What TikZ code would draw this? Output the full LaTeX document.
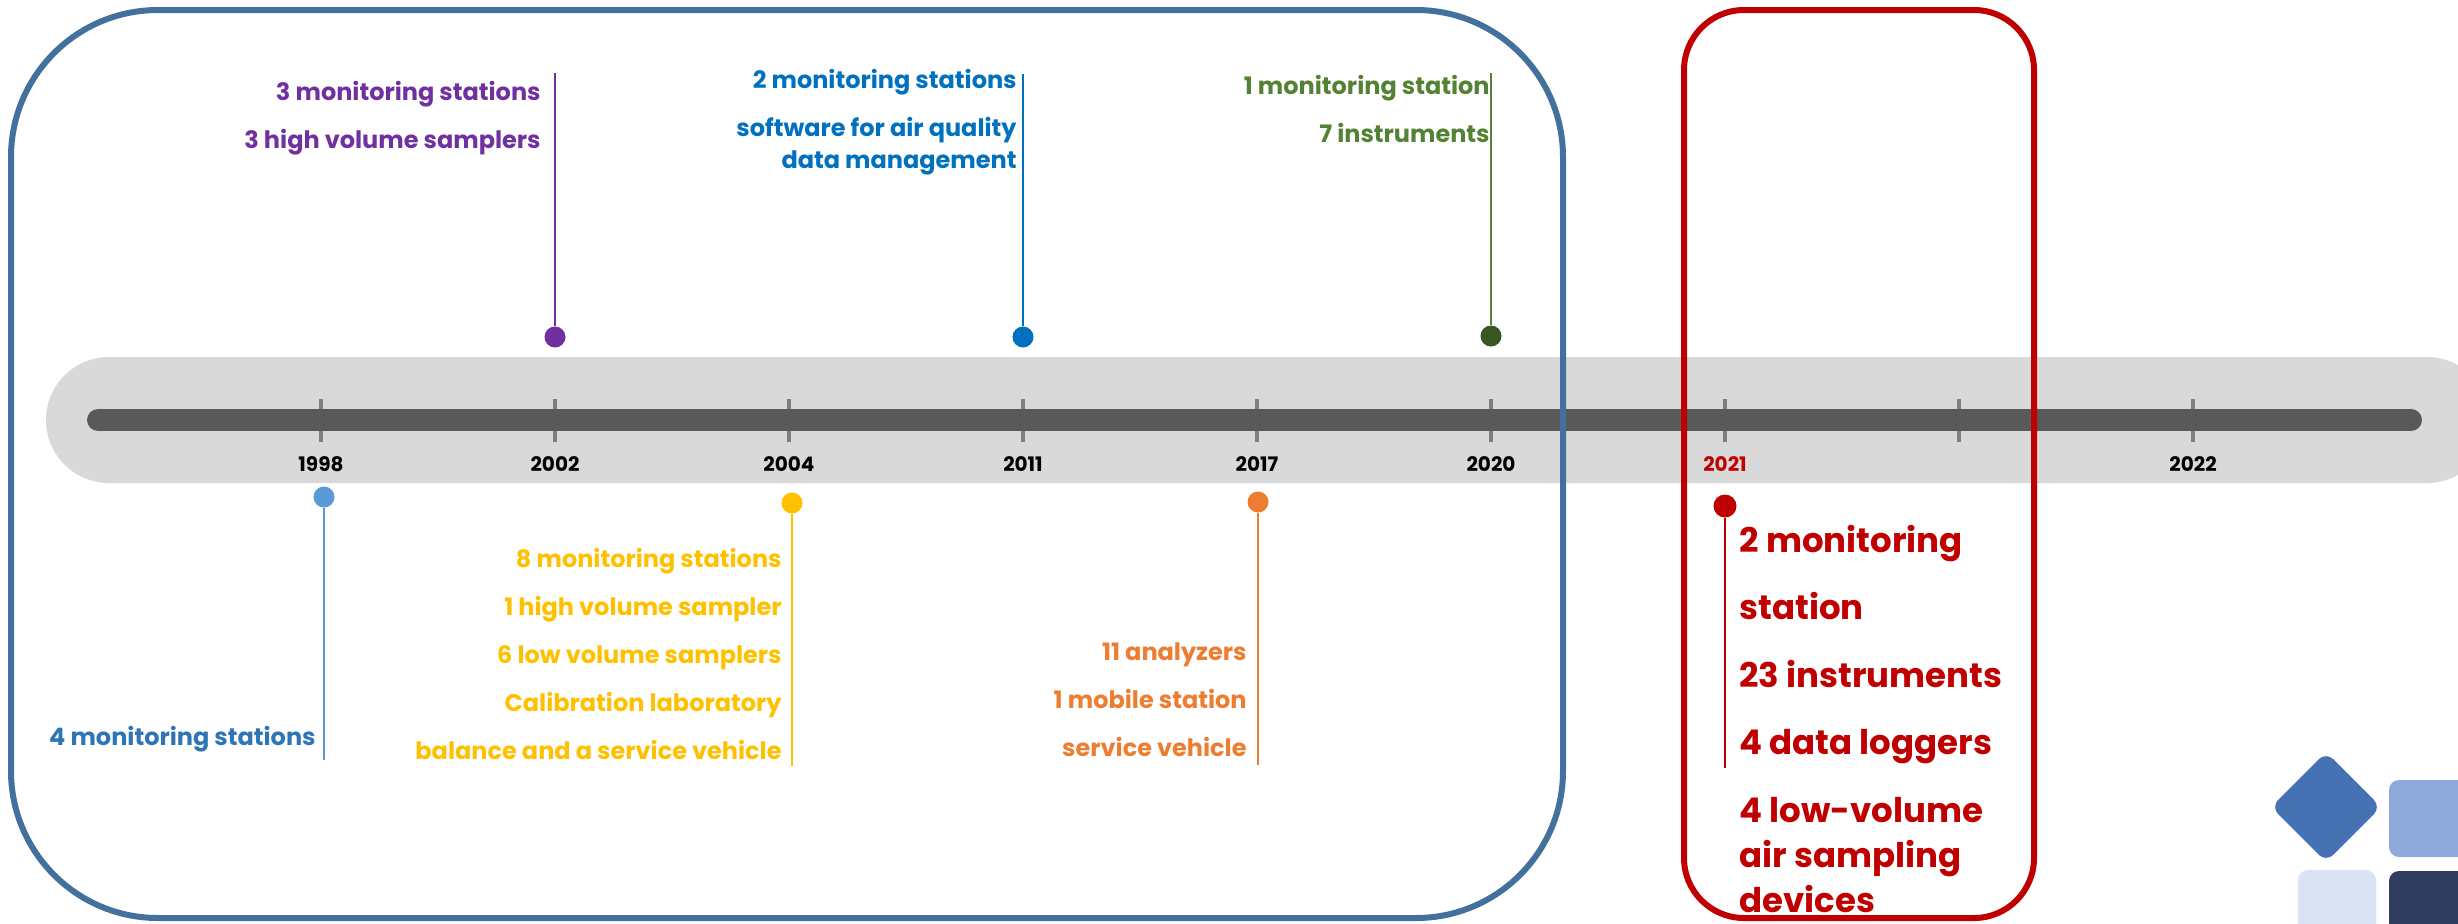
\documentclass[tikz,border=0pt]{standalone}
\usepackage{fontspec}
\setmainfont{Poppins}
\usepackage{xcolor}
\usetikzlibrary{positioning}

\definecolor{boxblue}{HTML}{41719C}
\definecolor{redmark}{HTML}{C00000}
\definecolor{bandgray}{HTML}{D9D9D9}
\definecolor{axisgray}{HTML}{595959}
\definecolor{tickgray}{HTML}{7F7F7F}
\definecolor{violet98}{HTML}{7030A0}
\definecolor{blue11}{HTML}{0070C0}
\definecolor{green20}{HTML}{548235}
\definecolor{darkgreen20}{HTML}{375623}
\definecolor{lightblue98}{HTML}{5B9BD5}
\definecolor{textblue98}{HTML}{2E75B6}
\definecolor{yellow04}{HTML}{FFC000}
\definecolor{orange17}{HTML}{ED7D31}
\definecolor{tileblue}{HTML}{4672B4}
\definecolor{tilelight}{HTML}{8EA9DB}
\definecolor{tilepale}{HTML}{DAE3F3}
\definecolor{tilenavy}{HTML}{2F3C5F}

\begin{document}
\begin{tikzpicture}[x=0.5pt, y=-0.5pt, node distance=117pt,
    year/.style={font=\fontsize{10}{12}\selectfont\bfseries, inner sep=0pt},
    pindot/.style={circle, fill=#1, inner sep=0pt, minimum size=10.5pt},
    stem/.style={draw=#1, line width=0.75pt},
    info/.style={text=#1, align=right, anchor=base east, inner sep=0pt,
                 font=\fontsize{12}{24}\selectfont\bfseries}]
    \useasboundingbox (0,0) rectangle (2458,923);
    % time band
    \fill[bandgray, rounded corners=31.5pt] (46,357) rectangle (2490,483);
    \draw[tickgray, line width=2pt] (321,399) -- (321,442) (555,399) -- (555,442)
        (789,399) -- (789,442) (1023,399) -- (1023,442) (1257,399) -- (1257,442)
        (1491,399) -- (1491,442) (1725,399) -- (1725,442) (1959,399) -- (1959,442)
        (2193,399) -- (2193,442);
    \draw[axisgray, line width=11pt, line cap=round] (98,420) -- (2411,420);
    % years
    \node[year] (y1998) at (321,464) {1998};
    \node[year] (y2002) [right of=y1998] {2002};
    \node[year] (y2004) [right of=y2002] {2004};
    \node[year] (y2011) [right of=y2004] {2011};
    \node[year] (y2017) [right of=y2011] {2017};
    \node[year] (y2020) [right of=y2017] {2020};
    \node[year, text=redmark] (y2021) [right of=y2020] {2021};
    \node[year] (y2022) [right of=y2021, node distance=234pt] {2022};
    % frames
    \draw[boxblue, line width=3pt, rounded corners=73.5pt] (11,10) rectangle (1563,918);
    \draw[redmark, line width=3pt, rounded corners=30pt] (1684,10) rectangle (2034,918);
    % events above the band (anchored on the last line)
    \node[pindot=violet98] (d2002) at (555,337) {};
    \coordinate (t2002) at (555,73);
    \node[info=violet98] (n2002) at (541,148) {3 monitoring stations\\3 high volume samplers};
    \node[pindot=blue11] (d2011) at (1023,337) {};
    \coordinate (t2011) at (1023,74);
    \node[info=blue11] (n2011) at (1017,168) {2 monitoring stations\\software for air quality\\[-8pt]data management};
    \node[pindot=darkgreen20] (d2020) at (1491,336) {};
    \coordinate (t2020) at (1491,73);
    \node[info=green20] (n2020) at (1490,142) {1 monitoring station\\7 instruments};
    % events below the band
    \node[pindot=lightblue98] (d1998) at (324,497) {};
    \coordinate (b1998) at (324,760);
    \node[info=textblue98] (n1998) at (316,745) {4 monitoring stations};
    \node[pindot=yellow04] (d2004) at (792,503) {};
    \coordinate (b2004) at (792,766);
    \node[info=yellow04] (n2004) at (782,759) {8 monitoring stations\\1 high volume sampler\\6 low volume samplers\\Calibration laboratory\\balance and a service vehicle};
    \node[pindot=orange17] (d2017) at (1258,502) {};
    \coordinate (b2017) at (1258,765);
    \node[info=orange17] (n2017) at (1247,756) {11 analyzers\\1 mobile station\\service vehicle};
    \node[pindot=redmark, minimum size=11.5pt] (d2021) at (1725,506) {};
    \coordinate (b2021) at (1725,768);
    \node[info=redmark, align=left, anchor=base west, font=\fontsize{17}{33.75}\selectfont\bfseries]
        (n2021) at (1739,912) {2 monitoring\\station\\23 instruments\\4 data loggers\\4 low-volume\\[-11.25pt]air sampling\\[-11.25pt]devices};
    \draw[stem=violet98] (d2002) -- (t2002);
    \draw[stem=blue11] (d2011) -- (t2011);
    \draw[stem=green20] (d2020) -- (t2020);
    \draw[stem=lightblue98] (d1998) -- (b1998);
    \draw[stem=yellow04] (d2004) -- (b2004);
    \draw[stem=orange17] (d2017) -- (b2017);
    \draw[stem=redmark] (d2021) -- (b2021);
    % tiles in the corner
    \fill[tileblue, rounded corners=5pt] (2326,752) -- (2381,807) -- (2326,862) -- (2271,807) -- cycle;
    \fill[tilelight, rounded corners=5pt] (2389,780) rectangle (2468,857);
    \fill[tilepale, rounded corners=5pt] (2298,870) rectangle (2376,950);
    \fill[tilenavy, rounded corners=5pt] (2389,871) rectangle (2468,950);
\end{tikzpicture}
\end{document}
